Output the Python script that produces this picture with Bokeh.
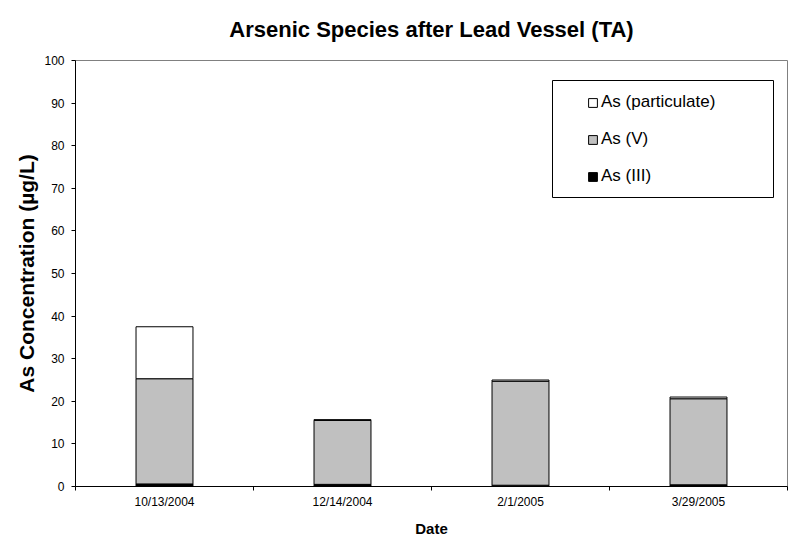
from bokeh.plotting import figure
from bokeh.models import (Range1d, LinearAxis, FixedTicker,
                          Legend, LegendItem, BoxAnnotation, ColumnDataSource)
from bokeh.embed import file_html
from bokeh.resources import INLINE

dates = ["10/13/2004", "12/14/2004", "2/1/2005", "3/29/2005"]
as_iii = [0.6, 0.5, 0.3, 0.4]
as_v = [24.7, 15.0, 24.4, 20.2]
as_part = [12.2, 0.2, 0.3, 0.4]
y_ticks = [0, 10, 20, 30, 40, 50, 60, 70, 80, 90, 100]
title_text = "Arsenic Species after Lead Vessel (TA)"

FONT = "Liberation Sans"

idx = list(range(len(dates)))
bounds = [i - 0.5 for i in range(len(dates) + 1)]
src = ColumnDataSource(dict(x=idx, iii=as_iii, v=as_v, part=as_part))

p = figure(width=788, height=543, x_range=Range1d(-0.5, len(dates) - 0.5),
           y_range=Range1d(0, 100), output_backend="svg", toolbar_location=None,
           x_axis_location=None, y_axis_location=None,
           min_border_left=75, min_border_right=1, min_border_top=59, min_border_bottom=57)

p.title.text = title_text
p.title.align = "center"
p.title.vertical_align = "top"
p.title.text_font = FONT
p.title.text_font_size = "22px"
p.title.text_font_style = "bold"
p.title.text_color = "#000000"
p.title.standoff = 33

p.xgrid.visible = False
p.ygrid.visible = False
p.outline_line_color = "#808080"
p.outline_line_width = 1

rs = p.vbar_stack(["iii", "v", "part"], x="x", width=0.32, source=src,
                  fill_color=["#000000", "#C0C0C0", "#FFFFFF"], line_color="#000000", line_width=1)

# y axis
yax = LinearAxis(ticker=FixedTicker(ticks=y_ticks), axis_label="As Concentration (µg/L)")
yax.axis_line_color = "#000000"
yax.major_tick_line_color = "#000000"
yax.major_tick_out = 4
yax.major_tick_in = 0
yax.minor_tick_line_color = None
yax.major_label_text_font = FONT
yax.major_label_text_font_size = "12px"
yax.major_label_text_color = "#000000"
yax.major_label_standoff = 7
yax.axis_label_text_font = FONT
yax.axis_label_text_font_size = "21px"
yax.axis_label_text_font_style = "bold"
yax.axis_label_text_color = "#000000"
yax.axis_label_standoff = 3
p.add_layout(yax, "left")

# category axis: labels at centres, tick marks between categories
xax = LinearAxis(ticker=FixedTicker(ticks=idx, minor_ticks=bounds), axis_label="Date",
                 major_label_overrides={i: d for i, d in zip(idx, dates)})
xax.axis_line_color = "#000000"
xax.major_tick_line_color = None
xax.major_tick_out = 0
xax.major_tick_in = 0
xax.minor_tick_line_color = "#000000"
xax.minor_tick_out = 4
xax.minor_tick_in = 0
xax.major_label_text_font = FONT
xax.major_label_text_font_size = "12px"
xax.major_label_text_color = "#000000"
xax.major_label_standoff = 4
xax.axis_label_text_font = FONT
xax.axis_label_text_font_size = "15px"
xax.axis_label_text_font_style = "bold"
xax.axis_label_text_color = "#000000"
xax.axis_label_standoff = 8
p.add_layout(xax, "below")

# legend frame (frame-relative screen units)
box = BoxAnnotation(left=477, right=698, top=406, bottom=289,
                    left_units="screen", right_units="screen", top_units="screen", bottom_units="screen",
                    fill_color="#FFFFFF", fill_alpha=1, line_color="#000000", line_width=1, line_alpha=1)
p.add_layout(box)

legend = Legend(items=[LegendItem(label="As (particulate)", renderers=[rs[2]]),
                       LegendItem(label="As (V)", renderers=[rs[1]]),
                       LegendItem(label="As (III)", renderers=[rs[0]])],
                location=(512, 300), orientation="vertical")
legend.border_line_color = None
legend.background_fill_alpha = 0
legend.padding = 0
legend.margin = 0
legend.spacing = 17
legend.label_height = 20
legend.glyph_width = 11
legend.glyph_height = 11
legend.label_standoff = 3
legend.label_text_font = FONT
legend.label_text_font_size = "17px"
legend.label_text_color = "#000000"
p.add_layout(legend, "center")

open("out.html", "w").write(file_html(p, INLINE))
